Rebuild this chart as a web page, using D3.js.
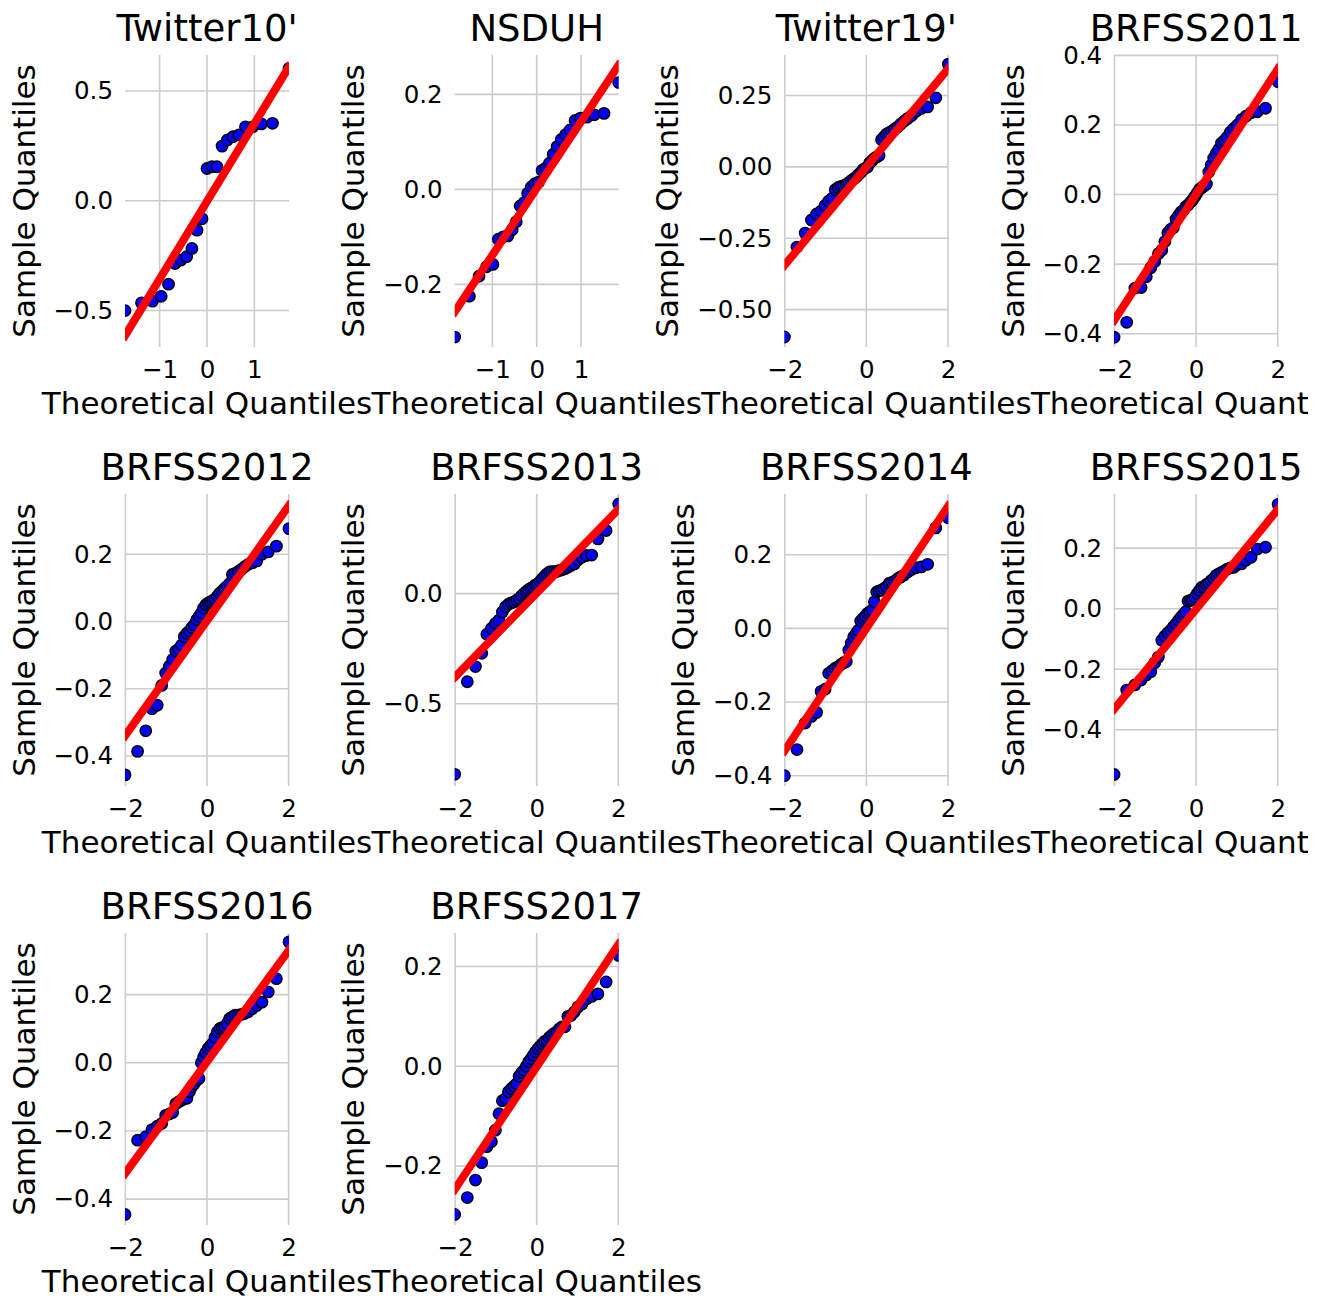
<!DOCTYPE html>
<html>
<head>
<meta charset="utf-8">
<script src="https://cdn.jsdelivr.net/npm/d3@7"></script>
<style>
  body { margin: 0; background: #fff; }
  svg { display: block; font-family: "DejaVu Sans", sans-serif; }
</style>
</head>
<body>
<svg id="canvas" width="1327" height="1299"></svg>
<script>
// panel titles, in reading order
let titles = ["Twitter10'", "NSDUH", "Twitter19'", "BRFSS2011", "BRFSS2012",
              "BRFSS2013", "BRFSS2014", "BRFSS2015", "BRFSS2016", "BRFSS2017"]

// sorted sample quantiles
let twitter10 = [-0.50, -0.465, -0.457, -0.435, -0.38, -0.286, -0.27, -0.255, -0.217, -0.134, -0.082,
                 0.147, 0.155, 0.155, 0.249, 0.277, 0.292, 0.30, 0.337, 0.337, 0.35, 0.353, 0.603]
let nsduh = [-0.311, -0.225, -0.183, -0.163, -0.158, -0.105, -0.10, -0.098, -0.085, -0.068,
             -0.035, -0.028, -0.008, 0.005, 0.012, 0.015, 0.040, 0.045, 0.055, 0.074,
             0.090, 0.105, 0.115, 0.125, 0.145, 0.15, 0.152, 0.157, 0.16, 0.225]
let twitter19 = [-0.596, -0.281, -0.232, -0.186, -0.165, -0.155, -0.135, -0.12, -0.11, -0.08, -0.072,
                 -0.068, -0.066, -0.062, -0.055, -0.048, -0.042, -0.036, -0.027, -0.02, -0.01, -0.005,
                 0.0, 0.015, 0.022, 0.03, 0.035, 0.04, 0.095, 0.105, 0.115, 0.12, 0.125,
                 0.133, 0.14, 0.15, 0.16, 0.17, 0.18, 0.195, 0.205, 0.21, 0.242, 0.36]
let brfss2011 = [-0.41, -0.367, -0.269, -0.267, -0.236, -0.21, -0.192, -0.17, -0.16, -0.135, -0.11,
                 -0.10, -0.095, -0.07, -0.06, -0.05, -0.045, -0.035, -0.03, -0.022, -0.015, -0.005,
                 0.005, 0.015, 0.02, 0.025, 0.03, 0.065, 0.085, 0.105, 0.118, 0.13, 0.148,
                 0.155, 0.165, 0.18, 0.19, 0.20, 0.215, 0.225, 0.235, 0.238, 0.248, 0.324]
let brfss2012 = [-0.456, -0.386, -0.325, -0.259, -0.249, -0.19, -0.153, -0.133, -0.113, -0.088, -0.082,
                 -0.07, -0.045, -0.035, -0.028, -0.018, -0.01, 0.005, 0.015, 0.025, 0.04, 0.05,
                 0.055, 0.058, 0.062, 0.066, 0.075, 0.084, 0.09, 0.098, 0.105, 0.113, 0.14,
                 0.143, 0.148, 0.155, 0.163, 0.17, 0.174, 0.18, 0.20, 0.207, 0.224, 0.276]
let brfss2013 = [-0.82, -0.40, -0.331, -0.271, -0.184, -0.158, -0.136, -0.12, -0.083, -0.06, -0.048,
                 -0.042, -0.038, -0.03, -0.022, -0.01, 0.0, 0.01, 0.018, 0.025, 0.03, 0.04,
                 0.045, 0.055, 0.068, 0.08, 0.09, 0.098, 0.10, 0.10, 0.10, 0.105, 0.108,
                 0.113, 0.12, 0.128, 0.135, 0.154, 0.165, 0.173, 0.175, 0.248, 0.286, 0.407]
let brfss2014 = [-0.40, -0.329, -0.257, -0.239, -0.228, -0.171, -0.165, -0.122, -0.115, -0.108, -0.104,
                 -0.098, -0.093, -0.09, -0.059, -0.04, -0.023, -0.014, -0.005, 0.02, 0.027, 0.033,
                 0.041, 0.045, 0.05, 0.072, 0.099, 0.102, 0.104, 0.108, 0.113, 0.122, 0.125,
                 0.128, 0.135, 0.14, 0.145, 0.153, 0.16, 0.165, 0.167, 0.174, 0.273, 0.30]
let brfss2015 = [-0.548, -0.269, -0.252, -0.236, -0.219, -0.208, -0.179, -0.16, -0.104, -0.09, -0.08,
                 -0.071, -0.06, -0.05, -0.038, -0.028, -0.019, -0.01, 0.025, 0.027, 0.03, 0.038,
                 0.05, 0.06, 0.071, 0.073, 0.08, 0.085, 0.093, 0.10, 0.11, 0.115, 0.12,
                 0.125, 0.131, 0.135, 0.137, 0.146, 0.148, 0.16, 0.17, 0.197, 0.203, 0.345]
let brfss2016 = [-0.445, -0.227, -0.217, -0.196, -0.186, -0.178, -0.154, -0.15, -0.146, -0.12, -0.114,
                 -0.11, -0.105, -0.104, -0.085, -0.07, -0.061, -0.051, -0.046, 0.0, 0.018, 0.03,
                 0.042, 0.05, 0.057, 0.075, 0.091, 0.10, 0.103, 0.106, 0.115, 0.13, 0.135,
                 0.14, 0.14, 0.142, 0.145, 0.15, 0.159, 0.168, 0.178, 0.208, 0.247, 0.355]
let brfss2017 = [-0.297, -0.263, -0.228, -0.193, -0.161, -0.151, -0.128, -0.095, -0.069, -0.065, -0.051,
                 -0.045, -0.04, -0.035, -0.02, -0.013, -0.008, 0.0, 0.009, 0.015, 0.022, 0.029,
                 0.035, 0.04, 0.045, 0.05, 0.052, 0.058, 0.062, 0.066, 0.069, 0.075, 0.079,
                 0.079, 0.10, 0.102, 0.109, 0.119, 0.125, 0.135, 0.14, 0.145, 0.169, 0.222]

let samples = [twitter10, nsduh, twitter19, brfss2011, brfss2012,
               brfss2013, brfss2014, brfss2015, brfss2016, brfss2017]

// y axis limits of each panel
let yDomains = [[-0.666, 0.664], [-0.332, 0.283], [-0.631, 0.392], [-0.438, 0.401], [-0.489, 0.379],
                [-0.873, 0.452], [-0.428, 0.365], [-0.586, 0.379], [-0.476, 0.381], [-0.318, 0.267]]

// tick values
let yTicks = [[-0.5, 0, 0.5], [-0.2, 0, 0.2], [-0.5, -0.25, 0, 0.25], [-0.4, -0.2, 0, 0.2, 0.4],
              [-0.4, -0.2, 0, 0.2], [-0.5, 0], [-0.4, -0.2, 0, 0.2], [-0.4, -0.2, 0, 0.2],
              [-0.4, -0.2, 0, 0.2], [-0.2, 0, 0.2]]
let yDecimals = [1, 1, 2, 1, 1, 1, 1, 1, 1, 1]
let xTicks = [[-1, 0, 1], [-1, 0, 1], [-2, 0, 2], [-2, 0, 2], [-2, 0, 2],
              [-2, 0, 2], [-2, 0, 2], [-2, 0, 2], [-2, 0, 2], [-2, 0, 2]]

// red reference line: y at the smallest and largest theoretical quantile
let lineEnds = [[-0.615, 0.61], [-0.258, 0.262], [-0.345, 0.345], [-0.362, 0.362], [-0.34, 0.345],
                [-0.38, 0.384], [-0.333, 0.333], [-0.332, 0.329], [-0.325, 0.331], [-0.247, 0.245]]

// inverse normal cdf (Acklam) for the theoretical quantiles
let probit = (p) => {
    const a = [-3.969683028665376e+01, 2.209460984245205e+02, -2.759285104469687e+02,
               1.383577518672690e+02, -3.066479806614716e+01, 2.506628277459239e+00]
    const b = [-5.447609879822406e+01, 1.615858368580409e+02, -1.556989798598866e+02,
               6.680131188771972e+01, -1.328068155288572e+01]
    const c = [-7.784894002430293e-03, -3.223964580411365e-01, -2.400758277161838e+00,
               -2.549732539343734e+00, 4.374664141464968e+00, 2.938163982698783e+00]
    const d = [7.784695709041462e-03, 3.224671290700398e-01, 2.445134137142996e+00,
               3.754408661907416e+00]
    const plow = 0.02425
    if (p < plow) {
        let q = Math.sqrt(-2 * Math.log(p))
        return (((((c[0]*q+c[1])*q+c[2])*q+c[3])*q+c[4])*q+c[5]) / ((((d[0]*q+d[1])*q+d[2])*q+d[3])*q+1)
    } else if (p <= 1 - plow) {
        let q = p - 0.5, r = q * q
        return (((((a[0]*r+a[1])*r+a[2])*r+a[3])*r+a[4])*r+a[5])*q / (((((b[0]*r+b[1])*r+b[2])*r+b[3])*r+b[4])*r+1)
    } else {
        let q = Math.sqrt(-2 * Math.log(1 - p))
        return -(((((c[0]*q+c[1])*q+c[2])*q+c[3])*q+c[4])*q+c[5]) / ((((d[0]*q+d[1])*q+d[2])*q+d[3])*q+1)
    }
}

let svg = d3.select('#canvas')

// the saved figure cuts off the right-most x label
svg.append('defs').append('clipPath').attr('id', 'figclip')
    .append('rect').attr('x', 0).attr('y', 0).attr('width', 1308).attr('height', 1299)

let fig = svg.append('g').attr('clip-path', 'url(#figclip)')

let plotW = 164
let plotH = 292
let colStep = 329.7
let rowStep = 439
let left0 = 125
let top0 = 55
let gridColor = '#cccccc'

samples.forEach((vals, k) => {
    let col = k % 4
    let row = Math.floor(k / 4)
    let left = left0 + col * colStep
    let top = top0 + row * rowStep
    let n = vals.length
    let theo = vals.map((v, i) => probit((i + 1) / (n + 1)))

    let x = d3.scaleLinear().domain(d3.extent(theo)).range([0, plotW])
    let y = d3.scaleLinear().domain(yDomains[k]).range([plotH, 0])

    let g = fig.append('g').attr('transform', `translate(${left},${top})`)

    g.append('clipPath').attr('id', 'clip' + k)
        .append('rect').attr('width', plotW).attr('height', plotH)

    // grid
    g.append('g').selectAll('line.gx')
        .data(xTicks[k]).enter().append('line')
        .attr('x1', d => x(d)).attr('x2', d => x(d))
        .attr('y1', 0).attr('y2', plotH)
        .style('stroke', gridColor).style('stroke-width', 1.6)
    g.append('g').selectAll('line.gy')
        .data(yTicks[k]).enter().append('line')
        .attr('x1', 0).attr('x2', plotW)
        .attr('y1', d => y(d)).attr('y2', d => y(d))
        .style('stroke', gridColor).style('stroke-width', 1.6)

    // axes without spines or tick marks
    let fmtY = d3.format('.' + yDecimals[k] + 'f')
    let yAxis = g.append('g')
        .call(d3.axisLeft(y).tickValues(yTicks[k]).tickFormat(fmtY).tickSize(0).tickPadding(12))
    let xAxis = g.append('g').attr('transform', `translate(0,${plotH})`)
        .call(d3.axisBottom(x).tickValues(xTicks[k]).tickFormat(d3.format('d')).tickSize(0).tickPadding(14))
    ;[xAxis, yAxis].forEach(ax => {
        ax.select('.domain').remove()
        ax.selectAll('text')
            .style('font-family', '"DejaVu Sans", sans-serif')
            .style('font-size', '24.5px')
            .style('fill', '#000')
    })

    // widest y tick label decides where the y label sits
    let tickW = d3.max(yAxis.selectAll('text').nodes(), nd => nd.getComputedTextLength())

    let plot = g.append('g').attr('clip-path', `url(#clip${k})`)

    plot.selectAll('circle')
        .data(vals).enter().append('circle')
        .attr('cx', (d, i) => x(theo[i]))
        .attr('cy', d => y(d))
        .attr('r', 5.7)
        .style('fill', '#0000ff')
        .style('stroke', '#000')
        .style('stroke-width', 1.4)

    let ext = d3.extent(theo)
    plot.append('line')
        .attr('x1', x(ext[0])).attr('y1', y(lineEnds[k][0]))
        .attr('x2', x(ext[1])).attr('y2', y(lineEnds[k][1]))
        .style('stroke', '#ff0000')
        .style('stroke-width', 8)
        .style('stroke-linecap', 'square')

    // labels
    g.append('text')
        .attr('x', plotW / 2).attr('y', -14)
        .attr('text-anchor', 'middle')
        .style('font-size', '37px')
        .text(titles[k])
    g.append('text')
        .attr('x', plotW / 2).attr('y', plotH + 67)
        .attr('text-anchor', 'middle')
        .style('font-size', '31px')
        .text('Theoretical Quantiles')
    g.append('text')
        .attr('transform', `translate(${-12 - tickW - 19},${plotH / 2}) rotate(-90)`)
        .attr('text-anchor', 'middle')
        .style('font-size', '31px')
        .text('Sample Quantiles')
})
</script>
</body>
</html>
